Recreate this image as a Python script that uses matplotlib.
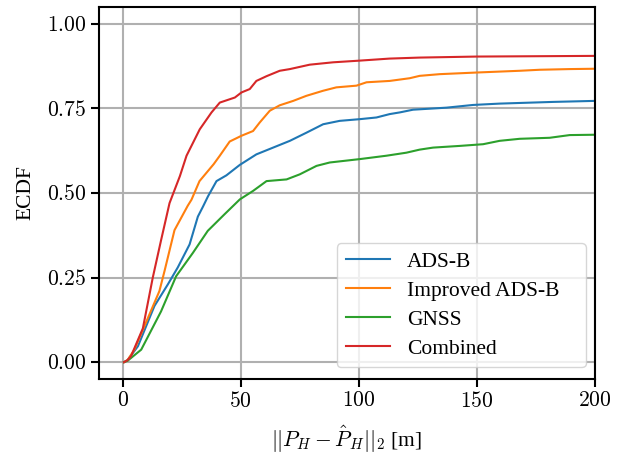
import numpy as np
import matplotlib
matplotlib.use('Agg')
import matplotlib.pyplot as plt

# ---------------------------------------------------------------- data
# knots (error in metres, cumulative fraction)
ads_x = [0.5, 2, 6.4, 13.4, 19.1, 23.3, 28.3, 31.8, 34, 36.1, 39.7, 43.9,
         49.6, 56.6, 63.7, 70.8, 77.8, 84.9, 91.9, 100.4, 107.5, 113.1, 117.4,
         123, 137.2, 148.4, 159.7, 182.3, 200]
ads_y = [0.0, 0.006, 0.047, 0.166, 0.23, 0.28, 0.348, 0.43, 0.46, 0.49,
         0.535, 0.552, 0.583, 0.614, 0.634, 0.654, 0.678, 0.703, 0.713, 0.718,
         0.723, 0.733, 0.738, 0.746, 0.752, 0.76, 0.764, 0.769, 0.772]

imp_x = [0.5, 2, 4.9, 10.6, 15.5, 17.7, 21.9, 27.5, 29.1, 32.5, 35.5, 38.5,
         41.1, 45.3, 50.3, 55.2, 58, 62.3, 66.5, 72.2, 77.8, 84.9, 90.5, 99,
         103.3, 113.1, 121.6, 125.8, 134.3, 150.5, 168.2, 176.7, 189.4, 200]
imp_y = [0.0, 0.006, 0.037, 0.13, 0.21, 0.27, 0.39, 0.462, 0.48, 0.535,
         0.56, 0.585, 0.61, 0.652, 0.669, 0.683, 0.708, 0.743, 0.759, 0.772,
         0.787, 0.802, 0.812, 0.817, 0.827, 0.831, 0.839, 0.846, 0.851, 0.856,
         0.861, 0.864, 0.866, 0.867]

gnss_x = [0.5, 2, 7.8, 16.2, 22.6, 29.7, 36, 43.1, 49.6, 55.2, 60.9, 69.4,
          75, 82.1, 87.7, 100.4, 111.7, 120.2, 125.8, 131.5, 142.8, 152.7,
          159.7, 168.2, 180.9, 189.4, 200]
gnss_y = [0.0, 0.004, 0.037, 0.15, 0.254, 0.323, 0.388, 0.437, 0.481, 0.506,
          0.535, 0.54, 0.555, 0.58, 0.59, 0.6, 0.61, 0.619, 0.628, 0.634,
          0.639, 0.644, 0.654, 0.66, 0.663, 0.671, 0.672]

comb_x = [0.5, 2, 3.5, 8.5, 12.7, 16.2, 19.8, 22, 24.2, 27, 32.6, 37.6, 41.1,
          47.5, 50.3, 53.8, 56.6, 60.9, 66.5, 70.8, 79.2, 89.1, 100.4, 113,
          125.8, 150, 200]
comb_y = [0.0, 0.006, 0.018, 0.10, 0.25, 0.36, 0.47, 0.51, 0.55, 0.61, 0.688,
          0.738, 0.767, 0.782, 0.797, 0.807, 0.831, 0.845, 0.861, 0.866, 0.879,
          0.886, 0.891, 0.897, 0.9, 0.903, 0.905]

labels = ['ADS-B', 'Improved ADS-B', 'GNSS', 'Combined']
colors = ['#1f77b4', '#ff7f0e', '#2ca02c', '#d62728']

xticks = [0, 50, 100, 150, 200]
yticks = [0.0, 0.25, 0.5, 0.75, 1.0]

# ---------------------------------------------------------------- style
plt.rcParams['font.family'] = ['Liberation Serif', 'DejaVu Serif']
plt.rcParams['mathtext.fontset'] = 'cm'
plt.rcParams['font.size'] = 15.5

# ---------------------------------------------------------------- plot
fig = plt.figure(figsize=(6.28, 4.54), dpi=100)
ax = fig.add_axes([0.158, 0.165, 0.789, 0.82])

series = [(ads_x, ads_y), (imp_x, imp_y), (gnss_x, gnss_y), (comb_x, comb_y)]
for (xs, ys), lab, col in zip(series, labels, colors):
    ax.plot(xs, ys, color=col, lw=1.5, label=lab)

ax.set_xlim(-10, 200)
ax.set_ylim(-0.05, 1.05)
ax.set_xticks(xticks)
ax.set_xticklabels(['$%d$' % t for t in xticks])
ax.set_yticks(yticks)
ax.set_yticklabels(['$%.2f$' % t for t in yticks])
ax.grid(True, color='#b0b0b0', lw=1.5)
ax.set_axisbelow(True)
for sp in ax.spines.values():
    sp.set_linewidth(1.5)
ax.tick_params(width=1.5, length=6, labelsize=15.5)

ax.set_xlabel(r'$||P_H - \hat{P}_H||_2$ [m]', labelpad=8)
ax.set_ylabel('ECDF', labelpad=8)

# legend box is wider than its text in the original, so stretch it
ax.legend(loc='lower right', bbox_to_anchor=(0.48, 0.032, 0.502, 0.3),
          mode='expand', fontsize=15.5, handlelength=2.05,
          handletextpad=0.8, borderaxespad=0.0, labelspacing=0.41,
          framealpha=0.8)

fig.savefig('out.png', dpi=100)
